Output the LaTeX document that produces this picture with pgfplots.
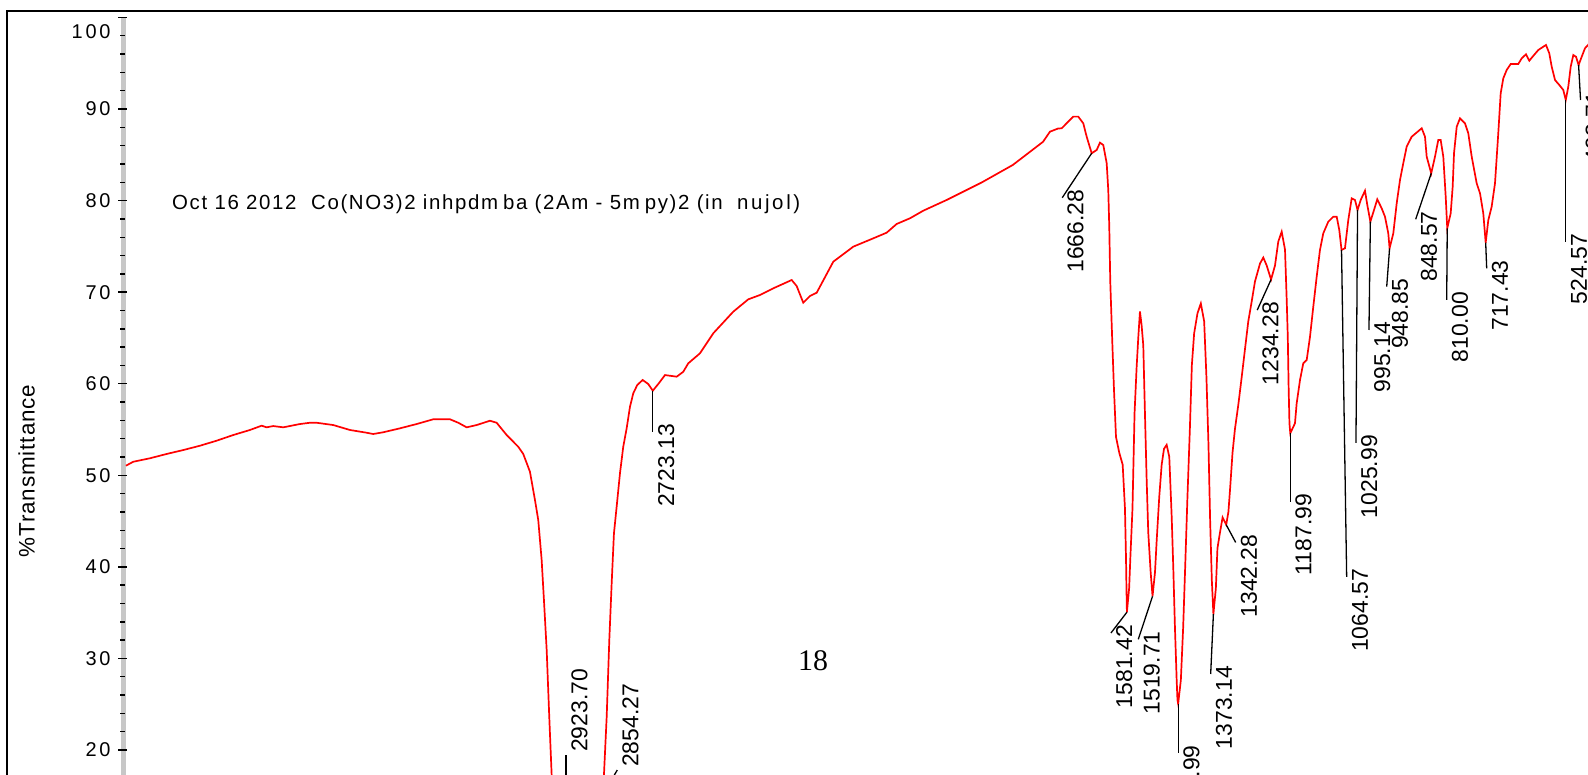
\documentclass[border=0pt]{standalone}
\usepackage{fontspec}
\setmainfont{Liberation Sans}
\newfontfamily\serifnum{Liberation Serif}
\newfontfamily\tickfont[LetterSpace=14]{Liberation Sans}
\newfontfamily\labfont[LetterSpace=4]{Liberation Sans}
\newfontfamily\titlefont[LetterSpace=8]{Liberation Sans}
\newfontfamily\titlewide[LetterSpace=13]{Liberation Sans}
\usepackage{pgfplots}
\pgfplotsset{compat=1.18}
\tikzset{
  lead/.style={black, line width=1.3bp},
  pk/.style={rotate=90, anchor=north east, inner sep=0pt, font=\fontsize{23}{23}\selectfont},
  pku/.style={rotate=90, anchor=north west, inner sep=0pt, font=\fontsize{23}{23}\selectfont},
}
\newcommand{\pkb}[5]{%
  \draw[lead] (axis cs:#1,#2) -- (axis cs:#3,#4);
  \node[pk] at ([xshift=5bp,yshift=8bp]axis cs:#3,#4) {#5};}
\newcommand{\pka}[5]{%
  \draw[lead] (axis cs:#1,#2) -- (axis cs:#3,#4);
  \node[pku] at ([xshift=5bp,yshift=3bp]axis cs:#3,#4) {#5};}
\begin{document}
\begin{tikzpicture}
\useasboundingbox (0,0) rectangle (1588bp,775bp);
\clip (0,0) rectangle (1588bp,775bp);
\draw[line width=2bp] (7.3bp,-20bp) -- (7.3bp,764.3bp) -- (1620bp,764.3bp);
\fill[black!22] (121bp,0bp) rectangle (126bp,757.5bp);
\node[rotate=90, font=\labfont\fontsize{22.5}{22.5}\selectfont] at (26.7bp,304bp) {\%Transmittance};
\node[anchor=base west, inner sep=0pt, font=\titlefont\fontsize{20.5}{20.5}\selectfont] at (172bp,565bp) {Oct 16 2012~~Co(NO3)2 inhpdm\hspace{5bp}ba (2Am - 5m\hspace{5bp}py)2 (in\hspace{7bp} {\titlewide nujol)}};
\node[font=\serifnum\fontsize{30}{30}\selectfont] at (813bp,114bp) {18};
\begin{axis}[
  at={(122.6bp,0bp)}, anchor=south west,
  scale only axis, width=1465.4bp, height=757.5bp,
  x dir=reverse, xmin=471.05, xmax=4000,
  ymin=17.27, ymax=100,
  axis x line=none,
  axis y line*=left,
  y axis line style={-, draw=none},
  ytick={20,30,...,100},
  yticklabels={20,30,40,50,60,70,80,90,{\raisebox{-21bp}[0pt][0pt]{100}}},
  minor y tick num=4,
  tick align=center,
  major tick length=9bp, minor tick length=4.5bp,
  tick style={black, line width=1.4bp},
  yticklabel style={font=\tickfont\fontsize{20}{20}\selectfont, xshift=-4bp},
  clip=true,
]
\addplot[red, line width=1.7bp, mark=none] table {
3991.9 51.05
3974.3 51.48
3934.1 51.86
3893.9 52.33
3853.9 52.76
3813.7 53.23
3773.5 53.78
3733.5 54.40
3693.3 54.95
3665.1 55.42
3653.1 55.24
3637.2 55.38
3613.1 55.24
3572.9 55.60
3548.8 55.74
3532.7 55.74
3492.7 55.49
3452.5 54.95
3412.3 54.65
3396.4 54.51
3372.3 54.70
3332.1 55.13
3291.9 55.60
3251.8 56.12
3211.6 56.12
3191.6 55.74
3171.4 55.24
3147.3 55.49
3115.3 55.96
3099.2 55.74
3075.1 54.40
3047.2 53.12
3035.1 52.33
3019.0 50.39
3006.9 47.30
2999.0 45.12
2990.8 40.75
2985.3 36.38
2978.7 30.92
2972.5 23.63
2966.7 17.26
2955 12.0
2940 9.0
2930 8.0
2910 9.5
2890 12.0
2870 14.0
2860 14.8
2854.27 14.3
2846 15.5
2840.8 17.26
2834.2 23.63
2827.9 32.01
2822.2 38.20
2816.7 43.66
2810.2 46.57
2802.2 50.22
2794.3 53.12
2786.1 55.13
2778.1 57.49
2770.2 58.95
2760.6 59.86
2747.6 60.41
2734.1 59.97
2723.13 59.24
2707.6 60.11
2693.8 60.95
2665.7 60.77
2649.8 61.31
2637.7 62.23
2609.6 63.32
2577.5 65.51
2529.4 67.87
2493.2 69.22
2465.1 69.69
2433.0 70.42
2388.7 71.33
2376.7 70.67
2360.8 68.85
2344.7 69.58
2328.5 69.94
2288.5 73.33
2240.4 74.97
2192.2 75.88
2159.9 76.50
2135.9 77.45
2103.8 78.07
2071.8 78.90
2015.5 80.07
1930.4 82.00
1856.3 83.89
1783.5 86.42
1766.7 87.53
1747.4 87.87
1738.5 87.90
1710.6 89.17
1698.5 89.17
1686.5 88.44
1678.3 86.98
1666.28 85.17
1654.2 85.53
1646.3 86.33
1638.3 86.07
1630.1 84.08
1626.3 81.16
1623.9 77.15
1621.5 71.17
1616.7 64.65
1612.6 59.42
1607.7 54.19
1599.8 52.46
1591.6 51.16
1586.1 46.36
1583.5 40.70
1582.5 37.67
1581.42 35.05
1576.0 37.69
1573.0 41.14
1568.0 46.36
1563.0 56.80
1558.0 61.82
1554.0 65.07
1550.0 67.90
1546.0 66.38
1542.0 64.21
1538.0 56.80
1533.8 49.41
1530.0 43.75
1524.2 39.40
1519.71 36.79
1513.8 39.40
1509.7 42.89
1503.5 47.67
1497.7 51.16
1492.1 52.89
1485.7 53.33
1479.4 52.02
1473.6 45.50
1469.7 39.84
1465.7 33.32
1461.6 27.65
1459.7 25.48
1457.99 25.04
1451.5 27.65
1446.0 33.32
1441.2 39.84
1435.6 47.67
1429.8 55.07
1425.0 62.04
1419.5 65.51
1411.5 67.69
1403.4 68.77
1395.4 66.82
1389.9 60.72
1385.0 53.33
1381.0 45.06
1376.9 38.53
1373.14 34.84
1367.2 37.67
1363.4 42.02
1357.3 43.75
1351.0 45.40
1342.28 44.60
1337.0 46.00
1332.9 48.55
1327.1 52.46
1321.2 55.07
1313.2 57.68
1305.0 60.72
1297.1 63.77
1289.1 66.82
1280.9 68.99
1273.0 71.17
1260.9 73.13
1253.0 73.78
1244.8 72.91
1234.28 71.38
1224.8 72.91
1216.9 75.52
1208.7 76.61
1200.7 74.65
1196.6 69.15
1194.0 65.14
1192.0 59.68
1190.0 55.68
1187.99 54.59
1176.7 55.68
1172.6 57.86
1164.6 60.41
1156.7 62.23
1148.5 62.59
1140.5 65.14
1132.6 68.41
1124.4 71.69
1116.5 74.61
1108.5 76.43
1096.5 77.70
1084.4 78.24
1076.2 78.24
1070.0 76.79
1064.57 74.61
1056.3 74.79
1048.3 77.88
1040.1 80.25
1032.2 80.07
1025.99 78.97
1018.4 80.07
1008.1 81.08
1002.5 79.52
995.14 77.70
986.4 78.97
978.5 80.14
967.9 79.16
959.9 78.24
952.0 76.43
948.85 74.79
939.9 76.43
931.7 79.71
923.8 82.25
915.9 84.08
907.7 85.89
895.6 86.98
871.5 87.90
863.6 86.98
859.5 84.80
848.57 82.98
839.5 84.80
831.6 86.62
825.8 86.62
819.5 84.80
813.7 80.43
810.00 76.98
801.7 78.61
796.9 81.52
793.7 85.17
787.2 88.07
779.3 88.99
767.3 88.44
759.3 87.35
751.1 84.80
739.1 81.89
731.1 80.80
723.2 78.61
717.43 75.40
711.1 77.88
703.0 79.34
695.0 81.89
687.1 87.35
681.3 91.72
675.0 93.36
666.8 94.27
657.2 94.92
638.9 94.92
630.7 95.54
620.4 95.98
612.4 95.28
601.1 95.90
590.7 96.45
572.2 97.00
564.3 96.09
558.5 94.63
550.5 93.17
540.2 92.63
530.5 92.08
524.57 90.99
518.5 92.44
512.7 94.63
506.4 95.90
499.9 95.71
493.71 94.81
486.2 95.71
478.3 96.64
471.0 97.00
465.0 97.30
};
\pka{2932}{8}{2932}{19.45}{2923.70}
\pka{2854.27}{14.3}{2808.7}{17.81}{2854.27}
\pkb{2723.13}{59.24}{2723.13}{54.76}{2723.13}
\pkb{1666.28}{85.17}{1737.1}{80.32}{1666.28}
\pkb{1581.42}{35.05}{1619.8}{32.78}{1581.42}
\pkb{1519.71}{36.79}{1554.0}{32.09}{1519.71}
\pkb{1457.99}{25.04}{1457.99}{19.64}{1457.99}
\pkb{1373.14}{34.84}{1379.7}{28.30}{1373.14}
\pkb{1342.28}{44.60}{1319.5}{42.67}{1342.28}
\pkb{1234.28}{71.38}{1267.5}{68.05}{1234.28}
\pkb{1187.99}{54.59}{1187.99}{47.11}{1187.99}
\pkb{1064.57}{74.61}{1052.2}{38.92}{1064.57}
\pkb{1025.99}{78.97}{1029.8}{53.53}{1025.99}
\pkb{995.14}{77.70}{998.5}{65.87}{995.14}
\pkb{948.85}{74.79}{955.8}{70.60}{948.85}
\pkb{848.57}{82.98}{886.0}{77.96}{848.57}
\pkb{810.00}{76.98}{811.3}{69.15}{810.00}
\pkb{717.43}{75.40}{715.0}{72.61}{717.43}
\pkb{524.57}{90.99}{524.57}{75.51}{524.57}
\pkb{493.71}{94.81}{489.0}{90.99}{493.71}
\end{axis}
\end{tikzpicture}
\end{document}
